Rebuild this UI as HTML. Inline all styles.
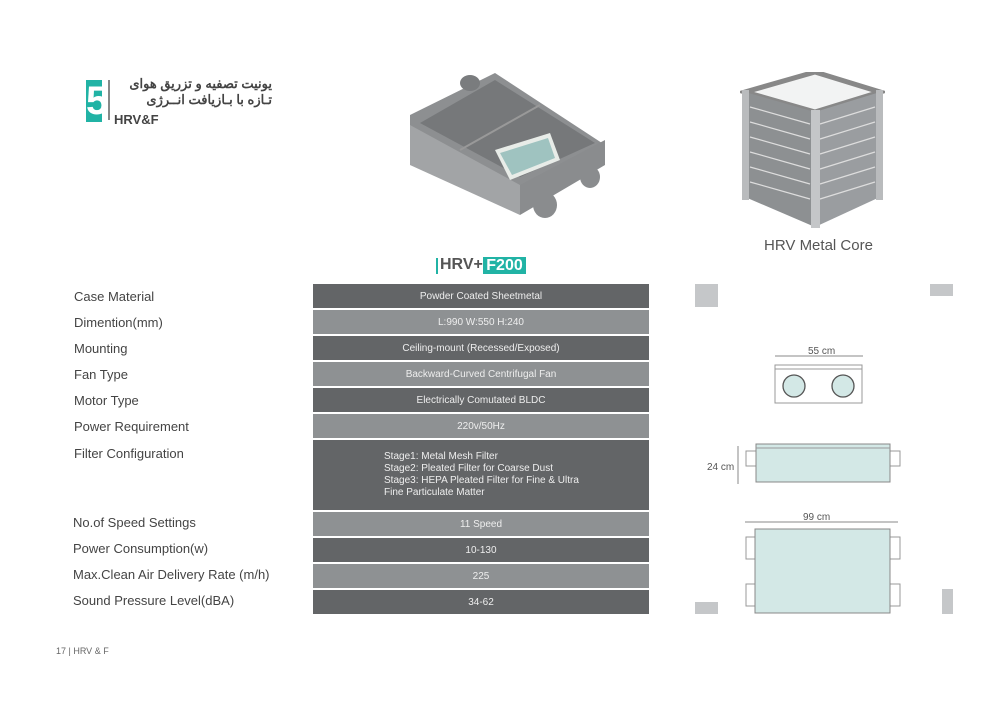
<!DOCTYPE html>
<html><head><meta charset="utf-8"><style>
body{margin:0;background:#fff;}
#p{position:relative;width:1000px;height:707px;overflow:hidden;font-family:"Liberation Sans",sans-serif;}
.l{position:absolute;left:74px;font-size:13px;color:#444;}
.r{position:absolute;left:313px;width:336px;color:#eee;font-size:10px;text-align:center;}
.d{background:#636567}.g{background:#8e9193}
.a{position:absolute;}
</style></head><body><div id="p">
<!-- logo -->
<div class="a" style="left:86px;top:80px;width:16px;height:42px;background:#21b3a5;color:#fff;font:bold 40px/42px 'Liberation Sans',sans-serif;text-align:center;overflow:hidden">5</div>
<div class="a" style="left:108px;top:80px;width:2px;height:40px;background:#888"></div>
<div class="a" style="left:112px;top:76px;width:160px;font:bold 13px/16px 'Liberation Sans','Noto Sans CJK SC',sans-serif;color:#444;direction:rtl;text-align:right">یونیت تصفیه و تزریق هوای<br>تـازه با بـازیافت انــرژی</div>
<div class="a" style="left:114px;top:112px;font:bold 13px 'Liberation Sans',sans-serif;color:#444">HRV&amp;F</div>

<!-- HRV unit -->
<svg class="a" style="left:400px;top:65px" width="215" height="160">
<polygon points="10,50 95,8 205,80 120,125 10,65" fill="#8d8f91"/>
<polygon points="10,60 120,120 120,150 10,100" fill="#a2a4a6"/>
<polygon points="120,120 205,75 205,100 120,150" fill="#8a8c8e"/>
<polygon points="20,58 95,15 195,78 120,112" fill="#76787a"/>
<line x1="60" y1="85" x2="140" y2="40" stroke="#999" stroke-width="2"/>
<polygon points="95,85 150,68 160,95 110,115" fill="#e8ece8"/>
<polygon points="100,88 148,73 155,93 112,110" fill="#9fc3c0"/>
<ellipse cx="145" cy="140" rx="12" ry="13" fill="#8a8c8e"/>
<ellipse cx="190" cy="112" rx="10" ry="11" fill="#8a8c8e"/>
<ellipse cx="70" cy="18" rx="10" ry="8" fill="#7a7c7e"/>
</svg>

<!-- metal core -->
<svg class="a" style="left:740px;top:72px" width="145" height="160">
<polygon points="5,20 75,0 140,20 75,40" fill="#f2f3f3" stroke="#888" stroke-width="5"/>
<polygon points="5,20 75,40 75,155 5,125" fill="#8d9092"/>
<polygon points="75,40 140,20 140,125 75,155" fill="#9a9da0"/>
<g stroke="#ddd" stroke-width="1.2">
<line x1="10" y1="35" x2="70" y2="52"/><line x1="10" y1="50" x2="70" y2="67"/><line x1="10" y1="65" x2="70" y2="82"/><line x1="10" y1="80" x2="70" y2="97"/><line x1="10" y1="95" x2="70" y2="112"/><line x1="10" y1="110" x2="70" y2="127"/>
<line x1="80" y1="52" x2="135" y2="35"/><line x1="80" y1="67" x2="135" y2="50"/><line x1="80" y1="82" x2="135" y2="65"/><line x1="80" y1="97" x2="135" y2="80"/><line x1="80" y1="112" x2="135" y2="95"/><line x1="80" y1="127" x2="135" y2="110"/>
</g>
<rect x="2" y="18" width="7" height="110" fill="#b9bbbd"/><rect x="71" y="38" width="9" height="118" fill="#c4c6c8"/><rect x="136" y="18" width="7" height="110" fill="#b9bbbd"/>
</svg>
<div class="a" style="left:764px;top:237px;font-size:15px;color:#555">HRV Metal Core</div>

<!-- title -->
<div class="a" style="left:436px;top:258px;width:2px;height:16px;background:#21b3a5"></div>
<div class="a" style="left:440px;top:256px;font:bold 16px 'Liberation Sans',sans-serif;color:#555">HRV+</div>
<div class="a" style="left:483px;top:257px;width:43px;height:17px;background:#21b3a5;color:#fff;font:bold 16px/17px 'Liberation Sans',sans-serif;text-align:center">F200</div>

<!-- labels -->
<div class="l" style="top:289px">Case Material</div>
<div class="l" style="top:315px">Dimention(mm)</div>
<div class="l" style="top:341px">Mounting</div>
<div class="l" style="top:367px">Fan Type</div>
<div class="l" style="top:393px">Motor Type</div>
<div class="l" style="top:419px">Power Requirement</div>
<div class="l" style="top:446px">Filter Configuration</div>
<div class="l" style="top:515px;left:73px">No.of Speed Settings</div>
<div class="l" style="top:541px;left:73px">Power Consumption(w)</div>
<div class="l" style="top:567px;left:73px">Max.Clean Air Delivery Rate (m/h)</div>
<div class="l" style="top:593px;left:73px">Sound Pressure Level(dBA)</div>

<!-- rows -->
<div class="r d" style="top:284px;height:24px;line-height:25px">Powder Coated Sheetmetal</div>
<div class="r g" style="top:310px;height:24px;line-height:25px">L:990 W:550 H:240</div>
<div class="r d" style="top:336px;height:24px;line-height:25px">Ceiling-mount (Recessed/Exposed)</div>
<div class="r g" style="top:362px;height:24px;line-height:25px">Backward-Curved Centrifugal Fan</div>
<div class="r d" style="top:388px;height:24px;line-height:25px">Electrically Comutated BLDC</div>
<div class="r g" style="top:414px;height:24px;line-height:25px">220v/50Hz</div>
<div class="r d" style="top:440px;height:70px;text-align:left"><div style="padding:11px 0 0 71px;line-height:12px">Stage1: Metal Mesh Filter<br>Stage2: Pleated Filter for Coarse Dust<br>Stage3: HEPA Pleated Filter for Fine &amp; Ultra<br>Fine Particulate Matter</div></div>
<div class="r g" style="top:512px;height:24px;line-height:25px">11 Speed</div>
<div class="r d" style="top:538px;height:24px;line-height:25px">10-130</div>
<div class="r g" style="top:564px;height:24px;line-height:25px">225</div>
<div class="r d" style="top:590px;height:24px;line-height:25px">34-62</div>

<!-- grey squares -->
<div class="a" style="left:695px;top:284px;width:23px;height:23px;background:#c5c7c9"></div>
<div class="a" style="left:930px;top:284px;width:23px;height:12px;background:#c5c7c9"></div>
<div class="a" style="left:695px;top:602px;width:23px;height:12px;background:#c5c7c9"></div>
<div class="a" style="left:942px;top:589px;width:11px;height:25px;background:#c5c7c9"></div>

<!-- drawings -->
<svg class="a" style="left:690px;top:330px" width="270" height="290" font-family="Liberation Sans" font-size="10" fill="#555">
<text x="118" y="24">55 cm</text>
<line x1="85" y1="26" x2="173" y2="26" stroke="#888"/>
<rect x="85" y="35" width="87" height="38" fill="#fff" stroke="#999"/>
<line x1="85" y1="39" x2="172" y2="39" stroke="#999"/>
<circle cx="104" cy="56" r="11" fill="#d3e8e6" stroke="#555" stroke-width="1.3"/>
<circle cx="153" cy="56" r="11" fill="#d3e8e6" stroke="#555" stroke-width="1.3"/>
<text x="17" y="140">24 cm</text>
<line x1="48" y1="116" x2="48" y2="154" stroke="#888"/>
<rect x="56" y="121" width="12" height="15" fill="#fff" stroke="#999"/>
<rect x="198" y="121" width="12" height="15" fill="#fff" stroke="#999"/>
<rect x="66" y="114" width="134" height="38" fill="#d3e8e6" stroke="#888"/>
<line x1="66" y1="118" x2="200" y2="118" stroke="#999"/>
<text x="113" y="190">99 cm</text>
<line x1="55" y1="192" x2="208" y2="192" stroke="#888"/>
<rect x="56" y="207" width="10" height="22" fill="#fff" stroke="#999"/>
<rect x="56" y="254" width="10" height="22" fill="#fff" stroke="#999"/>
<rect x="200" y="207" width="10" height="22" fill="#fff" stroke="#999"/>
<rect x="200" y="254" width="10" height="22" fill="#fff" stroke="#999"/>
<rect x="65" y="199" width="135" height="84" fill="#d3e8e6" stroke="#888"/>
</svg>

<div class="a" style="left:56px;top:646px;font-size:9px;color:#666">17 | HRV &amp; F</div>
</div></body></html>
